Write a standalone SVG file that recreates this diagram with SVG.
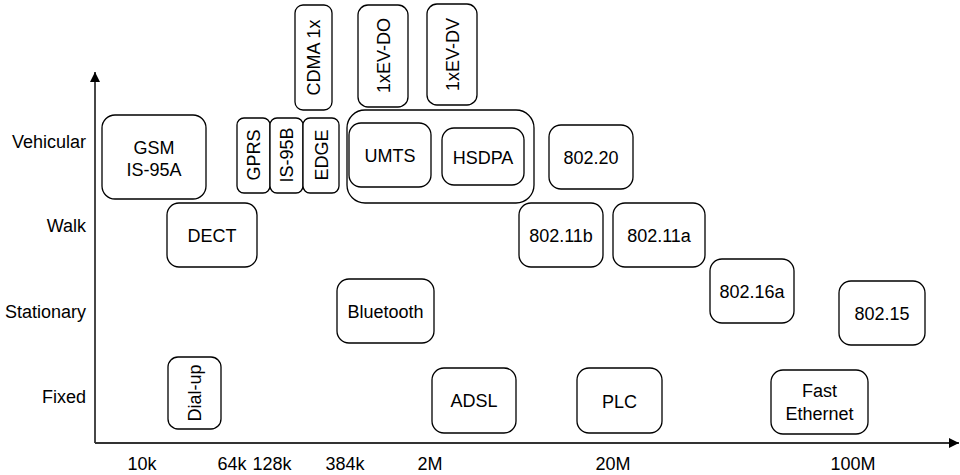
<svg xmlns="http://www.w3.org/2000/svg" width="960" height="475" viewBox="0 0 960 475">
<defs>
<marker id="arr" viewBox="0 0 10 10" refX="10" refY="5" markerWidth="10" markerHeight="10" markerUnits="userSpaceOnUse" orient="auto">
<path d="M0,0 L10,5 L0,10 Z" fill="#000"/>
</marker>
</defs>
<style>
.b{fill:#fff;stroke:#000;stroke-width:1.3}
text{font-family:"Liberation Sans",Arial,sans-serif;font-size:18px;fill:#000}
.c{text-anchor:middle}
.r{text-anchor:end}
.ax{stroke:#333;stroke-width:1.8;fill:none}
</style>
<rect width="960" height="475" fill="#fff"/>
<g id="axes">
<line class="ax" x1="95" y1="443" x2="95" y2="72" marker-end="url(#arr)"/>
<line class="ax" x1="95" y1="443" x2="959" y2="443" marker-end="url(#arr)"/>
</g>
<g id="ylabels">
<text class="r" x="86" y="147.5">Vehicular</text>
<text class="r" x="86" y="231.5">Walk</text>
<text class="r" x="86" y="317.5">Stationary</text>
<text class="r" x="86" y="402.5">Fixed</text>
</g>
<g id="xlabels">
<text class="c" x="142" y="469.5">10k</text>
<text class="c" x="232" y="469.5">64k</text>
<text class="c" x="272" y="469.5">128k</text>
<text class="c" x="345" y="469.5">384k</text>
<text class="c" x="430" y="469.5">2M</text>
<text class="c" x="613" y="469.5">20M</text>
<text class="c" x="853" y="469.5">100M</text>
</g>
<g id="umts-group"><rect class="b" x="347" y="110" width="187" height="93" rx="18"/></g>
<g id="gsm"><rect class="b" x="102" y="115" width="104" height="84" rx="13"/>
<text class="c" x="154" y="153.5">GSM</text><text class="c" x="154" y="176">IS-95A</text></g>
<g id="dect"><rect class="b" x="167" y="203" width="90" height="64" rx="12"/><text class="c" x="212" y="241.5">DECT</text></g>
<g id="gprs"><rect class="b" x="237" y="118" width="33" height="75" rx="7"/><text class="c" transform="translate(253.5,155) rotate(-90)" y="6.5">GPRS</text></g>
<g id="is95b"><rect class="b" x="270" y="118" width="33" height="75" rx="7"/><text class="c" transform="translate(286.5,155) rotate(-90)" y="6.5">IS-95B</text></g>
<g id="edge"><rect class="b" x="303" y="118" width="36" height="75" rx="7"/><text class="c" transform="translate(321,155) rotate(-90)" y="6.5">EDGE</text></g>
<g id="cdma1x"><rect class="b" x="295" y="5" width="37" height="105" rx="8"/><text class="c" transform="translate(313.5,57.5) rotate(-90)" y="6.5">CDMA 1x</text></g>
<g id="evdo"><rect class="b" x="358" y="5" width="50" height="102" rx="10"/><text class="c" transform="translate(383,55.5) rotate(-90)" y="6.5">1xEV-DO</text></g>
<g id="evdv"><rect class="b" x="427" y="4" width="50" height="101" rx="10"/><text class="c" transform="translate(452,54.5) rotate(-90)" y="6.5">1xEV-DV</text></g>
<g id="umts"><rect class="b" x="349" y="123" width="82" height="64" rx="12"/><text class="c" x="390" y="161.5">UMTS</text></g>
<g id="hsdpa"><rect class="b" x="442" y="128" width="82" height="57" rx="12"/><text class="c" x="483" y="164">HSDPA</text></g>
<g id="n80220"><rect class="b" x="549" y="125" width="84" height="64" rx="12"/><text class="c" x="591" y="163.5">802.20</text></g>
<g id="n80211b"><rect class="b" x="519" y="203" width="84" height="64" rx="12"/><text class="c" x="561" y="242">802.11b</text></g>
<g id="n80211a"><rect class="b" x="613" y="203" width="92" height="64" rx="12"/><text class="c" x="659" y="242">802.11a</text></g>
<g id="n80216a"><rect class="b" x="710" y="259" width="84" height="64" rx="12"/><text class="c" x="752" y="298">802.16a</text></g>
<g id="n80215"><rect class="b" x="839" y="281" width="86" height="64" rx="12"/><text class="c" x="882" y="320">802.15</text></g>
<g id="bluetooth"><rect class="b" x="337" y="279" width="97" height="64" rx="12"/><text class="c" x="385.5" y="318">Bluetooth</text></g>
<g id="dialup"><rect class="b" x="168" y="357" width="53" height="72" rx="10"/><text class="c" transform="translate(194.5,393) rotate(-90)" y="6.5">Dial-up</text></g>
<g id="adsl"><rect class="b" x="432" y="368" width="84" height="65" rx="12"/><text class="c" x="474" y="407">ADSL</text></g>
<g id="plc"><rect class="b" x="577" y="368" width="85" height="65" rx="12"/><text class="c" x="619.5" y="407.5">PLC</text></g>
<g id="fastethernet"><rect class="b" x="771" y="370" width="97" height="64" rx="12"/><text class="c" x="819.5" y="396.5">Fast</text><text class="c" x="819.5" y="420">Ethernet</text></g>
</svg>
